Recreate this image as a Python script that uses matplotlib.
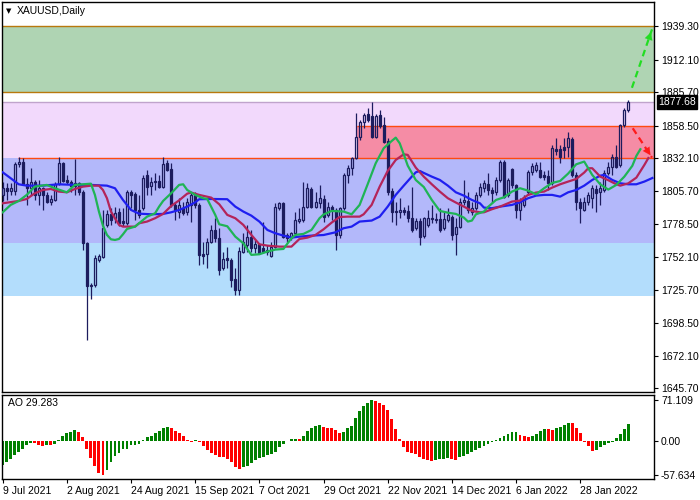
import matplotlib
matplotlib.use('Agg')
import matplotlib.pyplot as plt
from matplotlib.patches import Rectangle
import numpy as np

plt.rcParams['font.family'] = ['Liberation Sans', 'DejaVu Sans']

# ---- XAUUSD daily OHLC ----
opens = [1802.4, 1807.8, 1805.9, 1805.9, 1827.2, 1829.4, 1811.0, 1807.8, 1812.6, 1802.4,
         1807.8, 1802.4, 1797.0, 1798.3, 1811.0, 1828.0, 1814.5, 1812.6, 1809.9, 1811.8,
         1805.1, 1763.2, 1728.9, 1729.4, 1750.0, 1752.4, 1778.1, 1786.7, 1784.0, 1788.3,
         1781.3, 1779.4, 1804.5, 1803.2, 1790.2, 1791.6, 1818.6, 1809.9, 1812.6, 1813.7,
         1809.1, 1828.0, 1823.4, 1794.3, 1788.9, 1791.6, 1788.9, 1794.3, 1802.4, 1794.3,
         1754.3, 1754.3, 1764.6, 1774.0, 1767.8, 1742.9, 1751.1, 1749.7, 1734.3, 1725.4,
         1756.5, 1761.9, 1768.6, 1759.7, 1762.4, 1759.7, 1756.5, 1753.2, 1760.5, 1791.6,
         1795.6, 1769.9, 1767.8, 1771.3, 1781.3, 1782.1, 1792.9, 1807.2, 1792.9, 1795.6,
         1799.1, 1786.2, 1792.9, 1790.2, 1770.0, 1791.6, 1818.6, 1824.0, 1832.1, 1849.6,
         1861.8, 1867.7, 1866.7, 1849.6, 1867.2, 1859.1, 1846.1, 1805.6, 1789.4, 1788.9,
         1790.2, 1789.4, 1784.0, 1775.4, 1781.3, 1769.4, 1778.1, 1783.5, 1782.1, 1782.9,
         1775.4, 1782.1, 1784.8, 1770.5, 1776.7, 1796.4, 1797.5, 1788.9, 1791.6, 1802.4,
         1807.8, 1811.0, 1806.4, 1805.1, 1814.5, 1829.4, 1802.4, 1823.4, 1810.5, 1790.2,
         1794.3, 1805.1, 1820.7, 1822.6, 1822.6, 1818.6, 1818.0, 1811.8, 1839.6, 1839.6,
         1841.5, 1841.5, 1847.7, 1818.6, 1797.0, 1790.2, 1797.0, 1799.7, 1807.2, 1805.1,
         1806.4, 1819.9, 1825.3, 1833.4, 1826.7, 1859.1, 1871.2]
highs = [1812.6, 1811.8, 1811.8, 1829.4, 1833.4, 1832.1, 1815.9, 1824.5, 1814.5, 1814.5,
         1809.1, 1805.1, 1802.4, 1813.2, 1833.4, 1829.4, 1818.6, 1814.5, 1831.5, 1813.2,
         1806.4, 1764.6, 1730.8, 1753.8, 1754.3, 1790.2, 1790.2, 1791.6, 1792.9, 1791.6,
         1791.6, 1806.4, 1806.4, 1805.1, 1802.4, 1818.6, 1822.6, 1817.2, 1819.9, 1818.6,
         1833.4, 1830.7, 1828.0, 1797.0, 1799.7, 1797.0, 1799.7, 1803.7, 1805.1, 1795.6,
         1764.6, 1767.3, 1778.1, 1783.5, 1775.4, 1756.5, 1760.5, 1751.6, 1742.9, 1760.5,
         1771.3, 1778.1, 1774.0, 1765.9, 1763.2, 1780.8, 1761.9, 1764.6, 1795.6, 1796.4,
         1797.0, 1771.3, 1772.7, 1788.9, 1791.6, 1813.2, 1811.8, 1809.1, 1805.1, 1810.5,
         1802.4, 1797.0, 1794.3, 1791.6, 1792.9, 1819.9, 1826.7, 1833.4, 1868.5, 1863.1,
         1868.5, 1872.6, 1878.0, 1867.7, 1871.2, 1865.8, 1848.3, 1807.8, 1797.0, 1799.7,
         1792.9, 1794.3, 1809.1, 1783.5, 1783.5, 1784.8, 1790.2, 1794.3, 1787.5, 1791.6,
         1788.9, 1791.6, 1786.2, 1783.5, 1799.7, 1814.5, 1805.1, 1797.0, 1805.1, 1811.8,
         1814.5, 1819.9, 1809.1, 1817.2, 1830.7, 1830.7, 1815.9, 1824.0, 1811.0, 1799.7,
         1802.4, 1822.6, 1828.0, 1829.4, 1829.4, 1821.8, 1822.6, 1842.9, 1848.3, 1842.9,
         1848.3, 1853.7, 1849.6, 1821.3, 1799.7, 1801.0, 1805.1, 1810.5, 1810.5, 1813.2,
         1822.6, 1829.4, 1835.3, 1842.9, 1859.6, 1872.6, 1879.4]
lows = [1797.5, 1798.3, 1802.4, 1802.4, 1825.3, 1810.5, 1794.3, 1802.4, 1798.3, 1794.3,
        1790.2, 1795.6, 1794.3, 1797.5, 1810.5, 1812.6, 1811.0, 1805.1, 1802.4, 1802.4,
        1757.8, 1684.9, 1718.1, 1728.1, 1748.3, 1751.1, 1776.7, 1778.1, 1779.4, 1777.5,
        1777.5, 1778.1, 1791.6, 1782.1, 1783.5, 1790.2, 1802.4, 1802.4, 1806.4, 1807.8,
        1807.8, 1821.8, 1792.9, 1782.1, 1783.5, 1786.2, 1786.2, 1780.8, 1791.6, 1745.6,
        1746.2, 1743.0, 1763.2, 1764.6, 1737.5, 1741.6, 1742.9, 1728.1, 1721.3, 1721.3,
        1755.1, 1756.5, 1756.5, 1755.1, 1754.3, 1755.1, 1753.8, 1752.4, 1759.2, 1790.2,
        1767.3, 1764.6, 1765.9, 1770.0, 1779.4, 1780.8, 1791.6, 1791.6, 1791.6, 1791.6,
        1780.8, 1784.8, 1782.1, 1757.8, 1767.8, 1790.2, 1811.8, 1818.6, 1831.5, 1846.9,
        1856.4, 1861.8, 1848.3, 1848.3, 1856.4, 1844.2, 1802.4, 1780.8, 1778.1, 1783.5,
        1786.2, 1780.8, 1772.7, 1774.0, 1761.9, 1767.3, 1776.7, 1779.4, 1779.4, 1772.7,
        1774.0, 1780.8, 1765.9, 1753.8, 1775.4, 1794.3, 1787.5, 1786.2, 1790.2, 1801.0,
        1805.1, 1802.4, 1795.6, 1802.4, 1813.2, 1799.7, 1801.0, 1807.8, 1783.5, 1782.1,
        1792.9, 1802.4, 1818.6, 1821.3, 1815.9, 1814.5, 1806.4, 1810.5, 1834.8, 1828.0,
        1832.1, 1833.4, 1817.2, 1790.2, 1779.4, 1789.4, 1794.3, 1791.6, 1788.9, 1794.3,
        1805.1, 1818.6, 1818.6, 1824.0, 1825.3, 1857.7, 1869.9]
closes = [1808.3, 1805.9, 1807.8, 1827.5, 1829.4, 1811.0, 1807.8, 1812.6, 1802.4, 1807.8,
          1802.4, 1797.0, 1798.9, 1811.0, 1828.0, 1813.7, 1812.6, 1809.9, 1811.8, 1805.1,
          1763.2, 1728.9, 1729.4, 1751.1, 1752.7, 1775.4, 1786.7, 1782.1, 1787.5, 1779.4,
          1779.4, 1805.1, 1802.4, 1790.2, 1786.2, 1816.4, 1809.1, 1813.2, 1813.7, 1809.1,
          1827.5, 1822.6, 1794.3, 1790.2, 1794.3, 1787.5, 1797.0, 1802.4, 1794.3, 1753.8,
          1753.2, 1764.0, 1774.0, 1767.3, 1741.6, 1750.5, 1749.7, 1733.5, 1725.4, 1757.0,
          1764.6, 1768.6, 1759.7, 1762.4, 1755.1, 1756.5, 1757.8, 1760.5, 1792.9, 1795.6,
          1768.6, 1767.3, 1771.3, 1782.1, 1782.9, 1792.9, 1807.8, 1792.9, 1796.4, 1799.7,
          1784.8, 1792.9, 1790.2, 1770.0, 1791.6, 1818.6, 1824.0, 1832.1, 1849.6, 1861.8,
          1867.2, 1863.1, 1849.6, 1866.7, 1858.6, 1845.6, 1805.1, 1788.9, 1788.3, 1790.2,
          1788.9, 1783.5, 1774.0, 1781.3, 1768.6, 1783.5, 1784.0, 1782.7, 1782.9, 1774.0,
          1782.9, 1786.2, 1770.0, 1776.7, 1797.0, 1798.3, 1790.2, 1791.6, 1802.4, 1809.1,
          1811.8, 1806.4, 1803.7, 1814.5, 1829.4, 1801.0, 1814.5, 1810.5, 1790.2, 1797.0,
          1801.0, 1821.3, 1826.1, 1826.7, 1817.2, 1817.2, 1811.8, 1840.2, 1838.0, 1833.4,
          1838.8, 1848.3, 1818.6, 1797.0, 1791.6, 1797.0, 1802.4, 1807.8, 1803.7, 1808.3,
          1819.9, 1825.3, 1833.4, 1825.3, 1859.1, 1871.2, 1877.68]

# ---- Alligator lines (bar index, price) ----
jaw_idx = [0, 2, 4, 6, 10, 14, 18, 22, 26, 28, 30, 32, 34, 37, 40, 42, 44, 46, 48, 49,
           52, 56, 58, 60, 62, 64, 66, 68, 70, 72, 74, 77, 80, 83, 85, 87, 89, 92, 94, 96,
           98, 100, 102, 103, 104, 105, 107, 109, 111, 113, 115, 117, 119, 120, 122, 124, 127, 129, 131, 133,
           135, 137, 139, 141, 143, 145, 147, 149, 150, 152, 154, 156, 158, 160, 162]
jaw_val = [1820.7, 1815.9, 1811.0, 1809.9, 1809.9, 1811.0, 1810.5, 1810.5, 1809.9, 1807.8,
           1798.3, 1790.2, 1787.2, 1786.7, 1787.0, 1788.3, 1790.2, 1792.9, 1796.4, 1798.9,
           1799.1, 1798.9, 1792.9, 1788.9, 1785.6, 1780.8, 1774.0, 1771.3, 1769.4, 1767.8,
           1768.6, 1769.4, 1769.9, 1772.1, 1775.4, 1776.7, 1780.8, 1781.6, 1784.8, 1792.9,
           1802.4, 1809.9, 1817.2, 1820.7, 1821.8, 1820.2, 1817.2, 1814.5, 1809.9, 1804.5,
           1801.8, 1798.3, 1795.6, 1792.1, 1791.6, 1792.9, 1794.3, 1796.4, 1799.7, 1801.8,
           1802.4, 1802.4, 1801.0, 1804.5, 1806.4, 1809.9, 1814.5, 1818.0, 1818.6, 1814.5,
           1811.8, 1811.0, 1811.0, 1813.2, 1816.1]
teeth_idx = [0, 4, 6, 8, 10, 12, 14, 16, 18, 20, 22, 24, 25, 26, 27, 28, 29, 30, 33, 34,
             36, 38, 40, 42, 44, 46, 47, 49, 52, 54, 56, 58, 60, 62, 64, 66, 69, 72, 74, 76,
             78, 80, 82, 84, 86, 89, 90, 92, 94, 96, 98, 100, 101, 103, 105, 107, 109, 111, 113, 115,
             117, 119, 120, 122, 124, 127, 129, 131, 133, 135, 137, 139, 141, 143, 145, 146, 147, 149, 151, 153,
             154, 156, 158, 160, 161]
teeth_val = [1795.6, 1797.5, 1799.1, 1803.7, 1806.4, 1807.2, 1805.1, 1804.5, 1807.2, 1809.1,
             1809.9, 1809.9, 1806.4, 1799.7, 1788.9, 1783.5, 1778.1, 1776.7, 1776.7, 1779.4,
             1780.8, 1783.5, 1787.0, 1793.4, 1798.0, 1803.4, 1804.3, 1802.4, 1800.2, 1794.8,
             1786.2, 1783.5, 1778.1, 1770.0, 1762.4, 1761.3, 1760.5, 1760.5, 1766.7, 1767.8,
             1770.0, 1774.5, 1779.9, 1784.5, 1784.8, 1784.8, 1786.7, 1794.3, 1809.1, 1821.8,
             1830.7, 1835.3, 1834.8, 1824.5, 1817.2, 1811.0, 1805.1, 1799.7, 1796.2, 1792.9,
             1789.4, 1788.3, 1788.3, 1790.8, 1792.9, 1797.0, 1797.8, 1802.4, 1804.3, 1805.1,
             1808.3, 1811.0, 1813.2, 1815.3, 1820.5, 1824.0, 1824.0, 1817.2, 1814.3, 1811.0,
             1809.9, 1811.8, 1816.4, 1826.7, 1832.3]
lips_idx = [0, 2, 4, 6, 8, 11, 13, 16, 18, 20, 22, 23, 24, 25, 26, 27, 28, 29, 30, 31,
            33, 34, 36, 38, 39, 40, 42, 44, 45, 46, 48, 50, 51, 53, 54, 56, 58, 60, 62, 64,
            66, 68, 70, 72, 73, 75, 77, 79, 80, 82, 85, 87, 89, 91, 93, 95, 97, 98, 99, 100,
            101, 103, 105, 107, 109, 111, 113, 115, 116, 117, 118, 120, 121, 123, 125, 127, 129, 131, 133, 135,
            137, 139, 141, 143, 145, 147, 149, 151, 153, 155, 157, 158, 159]
lips_val = [1788.3, 1794.3, 1797.5, 1802.4, 1809.1, 1810.5, 1807.8, 1804.5, 1810.5, 1811.0,
            1811.5, 1802.4, 1788.9, 1777.5, 1770.0, 1766.4, 1765.9, 1766.7, 1770.5, 1774.8,
            1776.7, 1779.4, 1784.8, 1787.5, 1792.9, 1797.5, 1803.7, 1810.5, 1811.0, 1806.4,
            1802.4, 1799.7, 1799.1, 1786.2, 1778.6, 1777.0, 1768.6, 1763.2, 1753.8, 1754.3,
            1756.5, 1758.1, 1758.6, 1767.3, 1770.0, 1770.8, 1774.0, 1783.5, 1786.5, 1789.4,
            1788.9, 1786.7, 1794.3, 1811.0, 1828.0, 1840.2, 1846.1, 1848.8, 1844.2, 1835.3,
            1826.1, 1814.5, 1808.8, 1798.3, 1789.4, 1788.0, 1787.0, 1784.0, 1780.8, 1781.6,
            1786.7, 1788.9, 1792.6, 1798.3, 1800.5, 1805.1, 1807.8, 1805.9, 1802.9, 1807.8,
            1812.1, 1813.7, 1819.7, 1827.2, 1829.4, 1818.6, 1811.0, 1806.7, 1810.5, 1817.2,
            1826.0, 1834.0, 1839.4]

# ---- Awesome Oscillator ----
ao = [-40.0, -34.4, -30.0, -23.3, -17.8, -12.2, -5.6, -2.8, -3.3, -5.6,
      -7.8, -5.6, -6.7, -3.9, 2.8, 10.0, 14.4, 16.7, 20.0, 15.5,
      7.2, -12.2, -27.8, -41.6, -53.8, -57.634, -48.3, -34.4, -25.0, -19.4,
      -13.3, -12.2, -6.7, -5.6, -3.9, 1.7, 7.2, 8.9, 13.9, 18.3,
      22.2, 23.9, 22.8, 18.3, 14.4, 10.0, 2.8, -1.1, 1.7, -1.1,
      -7.8, -15.0, -19.4, -23.3, -26.1, -27.2, -30.0, -34.4, -43.8, -46.6,
      -43.8, -41.6, -37.2, -31.6, -28.9, -26.1, -23.3, -21.6, -17.8, -9.4,
      -3.9, 1.1, 3.9, 4.4, 4.2, 10.0, 17.2, 22.2, 25.5, 28.3,
      23.9, 23.3, 22.8, 19.4, 14.4, 15.5, 22.2, 26.6, 39.4, 51.6,
      59.9, 65.5, 71.109, 68.3, 65.5, 62.7, 52.7, 37.7, 21.1, 4.4,
      -9.4, -17.8, -19.4, -21.6, -26.1, -30.0, -31.6, -32.7, -32.2, -30.5,
      -29.4, -28.3, -30.5, -31.6, -26.1, -24.4, -21.6, -17.8, -13.9, -10.5,
      -8.3, -3.9, -1.7, 2.8, 6.1, 10.0, 12.8, 15.5, 16.7, 11.7,
      8.6, 8.3, 8.9, 12.8, 18.3, 21.1, 20.6, 20.3, 23.3, 25.0,
      28.3, 31.1, 30.8, 22.8, 13.9, -1.5, -8.3, -15.5, -14.4, -9.4,
      -6.7, -2.8, -0.6, 6.1, 12.8, 21.1, 29.283]

date_idx = [0, 16, 32, 48, 64, 80, 96, 112, 128, 144]
date_labels = ['9 Jul 2021', '2 Aug 2021', '24 Aug 2021', '15 Sep 2021', '7 Oct 2021',
               '29 Oct 2021', '22 Nov 2021', '14 Dec 2021', '6 Jan 2022', '28 Jan 2022']
price_ticks = [1939.30, 1912.10, 1885.70, 1858.50, 1832.10, 1805.70, 1778.50,
               1752.10, 1725.70, 1698.50, 1672.10, 1645.70]
ao_ticks = [71.109, 0.0, -57.634]
ao_tick_labels = ['71.109', '0.00', '-57.634']

# ---- zones / levels ----
green_zone = (1885.70, 1939.30)
pink_zone = (1832.10, 1877.68)
blue_zone = (1763.7, 1832.10)
lblue_zone = (1720.8, 1763.7)
red_zone = (1832.10, 1858.50)
red_zone_start = 88.4
support_line_start = 3.8
up_arrow = ((156.9, 1889.2), (161.9, 1936.5))
down_arrow = ((157.1, 1856.4), (161.9, 1832.6))
last_price = 1877.68

NAVY = '#1c1c5e'
FS = 7.5

fig = plt.figure(figsize=(7, 5), dpi=100)
fig.patch.set_facecolor('white')
ax = fig.add_axes([2/700, 1-392/500, 652/700, 390/500])
ax2 = fig.add_axes([2/700, 1-479/500, 652/700, 84/500])

x = np.arange(len(closes))
xmin, xmax = -0.17, 162.4

# zones
ax.axhspan(*green_zone, color='#afd4b3', lw=0, zorder=0)
ax.axhspan(*pink_zone, color='#f2d9fc', lw=0, zorder=0)
ax.axhspan(*blue_zone, color='#b3b8fa', lw=0, zorder=0)
ax.axhspan(*lblue_zone, color='#b3ddfc', lw=0, zorder=0)
ax.add_patch(Rectangle((red_zone_start, red_zone[0]), 200, red_zone[1]-red_zone[0],
                       facecolor='#f58ca5', lw=0, zorder=0.5))
for lv in green_zone:
    ax.axhline(lv, color='#b8780c', lw=1, zorder=1)
ax.axhline(pink_zone[1], color='#c0a4cc', lw=1, zorder=1)
ax.hlines(red_zone[1], red_zone_start, 200, color='#ff4a10', lw=1, zorder=1)
ax.hlines(red_zone[0], support_line_start, 200, color='#ff4a10', lw=1, zorder=1)

# candles
o = np.array(opens); h = np.array(highs); l = np.array(lows); c = np.array(closes)
top = np.maximum(o, c); bot = np.minimum(o, c)
up = c >= o
ax.vlines(x, top, h, color=NAVY, lw=0.9, zorder=3)
ax.vlines(x, l, bot, color=NAVY, lw=0.9, zorder=3)
hgt = np.maximum(top - bot, 0.4)
ax.bar(x[up], hgt[up], bottom=bot[up], width=0.5, facecolor='none',
       edgecolor=NAVY, lw=0.9, zorder=3)
ax.bar(x[~up], hgt[~up], bottom=bot[~up], width=0.5, facecolor=NAVY,
       edgecolor=NAVY, lw=0.9, zorder=3)

# alligator
ax.plot(jaw_idx, jaw_val, color='#1f1ff0', lw=1.6, zorder=4)
ax.plot(teeth_idx, teeth_val, color='#b4245a', lw=1.6, zorder=4)
ax.plot(lips_idx, lips_val, color='#1fb455', lw=1.6, zorder=4)

# forecast arrows
for (p0, p1), col in [(up_arrow, '#22dd22'), (down_arrow, '#ff1a1a')]:
    ax.plot([p0[0], p1[0]], [p0[1], p1[1]], color=col, lw=1.6, ls=(0, (3, 2)), zorder=5)
    back = (p1[0] - (p1[0]-p0[0])*0.25, p1[1] - (p1[1]-p0[1])*0.25)
    ax.annotate('', xy=p1, xytext=back,
                arrowprops=dict(arrowstyle='-|>,head_length=0.55,head_width=0.28',
                                color=col, lw=0.1), zorder=5)

ax.set_xlim(xmin, xmax)
ax.set_ylim(1642.7, 1958.7)
ax.yaxis.tick_right()
ax.set_yticks(price_ticks)
ax.set_yticklabels([f'{v:.2f}' for v in price_ticks])
ax.tick_params(axis='y', length=3, width=0.8, labelsize=FS, pad=2, colors='black')
ax.set_xticks([])
for s in ax.spines.values():
    s.set_color('black'); s.set_linewidth(1)

ax.annotate(f'{last_price:.2f}', xy=(1.0, last_price), xycoords=('axes fraction', 'data'),
            xytext=(3, 0), textcoords='offset points', va='center', ha='left',
            fontsize=FS, color='white',
            bbox=dict(boxstyle='square,pad=0.15', facecolor='black', edgecolor='black'))

fig.text(9/700, 1-11/500, '\u25BC', fontsize=5, va='center', ha='center',
         family='DejaVu Sans')
fig.text(17/700, 1-11/500, 'XAUUSD,Daily', fontsize=FS, va='center', ha='left')

# AO pane
aov = np.array(ao)
rising = np.r_[True, aov[1:] > aov[:-1]]
ao_cols = np.where(rising, '#008000', '#ff0000')
ax2.bar(x, aov, width=0.72, color=ao_cols, lw=0)
ax2.set_xlim(xmin, xmax)
ax2.set_ylim(-63.9, 79.0)
ax2.yaxis.tick_right()
ax2.set_yticks(ao_ticks)
ax2.set_yticklabels(ao_tick_labels)
ax2.tick_params(axis='y', length=3, width=0.8, labelsize=FS, pad=2)
ax2.set_xticks(date_idx)
ax2.set_xticklabels(date_labels, ha='left')
ax2.tick_params(axis='x', length=3, width=0.8, labelsize=FS, pad=2)
for s in ax2.spines.values():
    s.set_color('black'); s.set_linewidth(1)
ax2.text(0.009, 0.9, f'AO {ao[-1]:.3f}', transform=ax2.transAxes, fontsize=FS,
         va='center', ha='left')

fig.savefig('out.png', dpi=100)
